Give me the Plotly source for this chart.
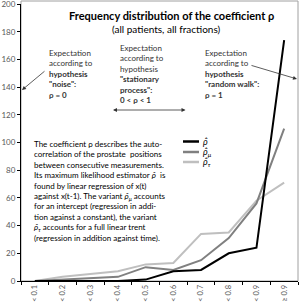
import plotly.graph_objects as go

categories = ["< 0.1", "< 0.2", "< 0.3", "< 0.4", "< 0.5", "< 0.6", "< 0.7", "< 0.8", "< 0.9", "≥ 0.9"]
rho_hat = [0, 0, 0, 0, 1, 7, 8, 20, 24, 174]
rho_mu = [0, 1, 2, 3, 10, 8, 15, 31, 56, 110]
rho_tau = [0, 3, 5, 7, 12, 13, 34, 35, 58, 71]
y_ticks = [0, 20, 40, 60, 80, 100, 120, 140, 160, 180, 200]

series = [
    ("ρ̂", rho_hat, "#000000"),
    ("ρ̂<sub>μ</sub>", rho_mu, "#808080"),
    ("ρ̂<sub>τ</sub>", rho_tau, "#bfbfbf"),
]

FONT = "Lato, Carlito, Open Sans, sans-serif"

# plot area in page pixels
L, R, T, B = 21, 298, 4, 281

fig = go.Figure()
for name, vals, col in reversed(series):
    fig.add_trace(go.Scatter(x=categories, y=vals, mode="lines", name=name,
                             line=dict(color=col, width=2), showlegend=False))

shapes = []
annotations = []


def px(x):
    return (x - L) / (R - L)


def py(y):
    return (B - y) / (B - T)


# frame
shapes.append(dict(type="rect", xref="paper", yref="paper", x0=0, x1=1, y0=0, y1=py(1),
                   line=dict(color="#a0a0a0", width=1), layer="below"))

# manual legend
leg_y = [141.5, 152, 162]
for (name, vals, col), ly in zip(series, leg_y):
    yp = py(ly)
    shapes.append(dict(type="line", xref="paper", yref="paper",
                       x0=px(183), x1=px(199), y0=yp, y1=yp,
                       line=dict(color=col, width=2.5)))
    annotations.append(dict(xref="paper", yref="paper", x=px(201), y=yp,
                            xanchor="left", yanchor="middle", showarrow=False,
                            text="<i>" + name + "</i>", font=dict(size=9, color="#000")))

# title
annotations.append(dict(xref="paper", yref="paper", x=px(171), y=py(15), showarrow=False,
                        text="<b>Frequency distribution of the coefficient ρ</b>",
                        font=dict(size=11, color="#000"), xanchor="center", yanchor="middle"))
annotations.append(dict(xref="paper", yref="paper", x=px(166), y=py(29), showarrow=False,
                        text="(all patients, all fractions)",
                        font=dict(size=10, color="#000"), xanchor="center", yanchor="middle"))

# hypothesis texts
annotations.append(dict(xref="paper", yref="paper", x=px(47), y=py(46), showarrow=False,
                        text="Expectation<br>according to<br><b>hypothesis</b><br><b>\"noise\":</b><br><b>ρ = 0</b>",
                        align="left", xanchor="left", yanchor="top",
                        font=dict(size=8, color="#333")))
annotations.append(dict(xref="paper", yref="paper", x=px(142), y=py(41), showarrow=False,
                        text="Expectation<br>according to<br>hypothesis<br><b>\"stationary</b><br><b>process\":</b><br><b>0 < ρ < 1</b>",
                        align="left", xanchor="center", yanchor="top",
                        font=dict(size=8, color="#333")))
annotations.append(dict(xref="paper", yref="paper", x=px(203), y=py(46), showarrow=False,
                        text="Expectation<br>according to<br><b>hypothesis</b><br><b>\"random walk\":</b><br><b>ρ = 1</b>",
                        align="left", xanchor="left", yanchor="top",
                        font=dict(size=8, color="#333")))

# arrows
arrows = [((22, 90), (46, 70), "end"), ((297, 79), (250, 65), "end"), ((113, 110), (187, 110), "end+start")]
for (hx, hy), (tx, ty), side in arrows:
    annotations.append(dict(xref="x domain", yref="y domain", axref="x domain", ayref="y domain",
                            x=px(hx), y=py(hy), ax=px(tx), ay=py(ty), text="", showarrow=True,
                            arrowhead=2, arrowside=side, arrowsize=1, arrowwidth=0.8,
                            arrowcolor="#333"))

# description
desc = ("The coefficient ρ describes the auto-<br>"
        "correlation of the prostate  positions<br>"
        "between consecutive measurements.<br>"
        "Its maximum likelihood estimator <i>ρ̂</i>  is<br>"
        "found by linear regression of x(t)<br>"
        "against x(t-1). The variant <i>ρ̂<sub>μ</sub></i> accounts<br>"
        "for an intercept (regression in addi-<br>"
        "tion against a constant), the variant<br>"
        "<i>ρ̂<sub>τ</sub></i> accounts for a full linear trent<br>"
        "(regression in addition against time).")
annotations.append(dict(xref="paper", yref="paper", x=px(32), y=py(137), showarrow=False,
                        text=desc, align="left", xanchor="left", yanchor="top",
                        font=dict(size=8, color="#000")))

fig.update_layout(
    width=301, height=303,
    margin=dict(l=L, r=301 - R, t=T, b=303 - B),
    paper_bgcolor="white", plot_bgcolor="white",
    font=dict(family=FONT, size=8, color="#595959"),
    shapes=shapes, annotations=annotations,
    showlegend=False,
)
fig.update_xaxes(type="category", categoryorder="array", categoryarray=categories,
                 range=[-0.5, 9.5], showline=True, linecolor="#000", linewidth=1,
                 ticks="outside", tickson="boundaries", ticklen=3, tickcolor="#000",
                 tickangle=-90, tickfont=dict(size=7.5, color="#595959"),
                 showgrid=False, automargin=False, zeroline=False)
fig.update_yaxes(range=[0, 200], tickvals=y_ticks, showline=True, linecolor="#000",
                 linewidth=1, ticks="outside", ticklen=3, tickcolor="#000",
                 tickfont=dict(size=8, color="#595959"), showgrid=False,
                 ticklabeloverflow="allow", automargin=False, zeroline=False)

fig.write_html("out.html", config={"displayModeBar": False},
               post_script="document.body.style.margin='0';document.body.style.padding='0';")
